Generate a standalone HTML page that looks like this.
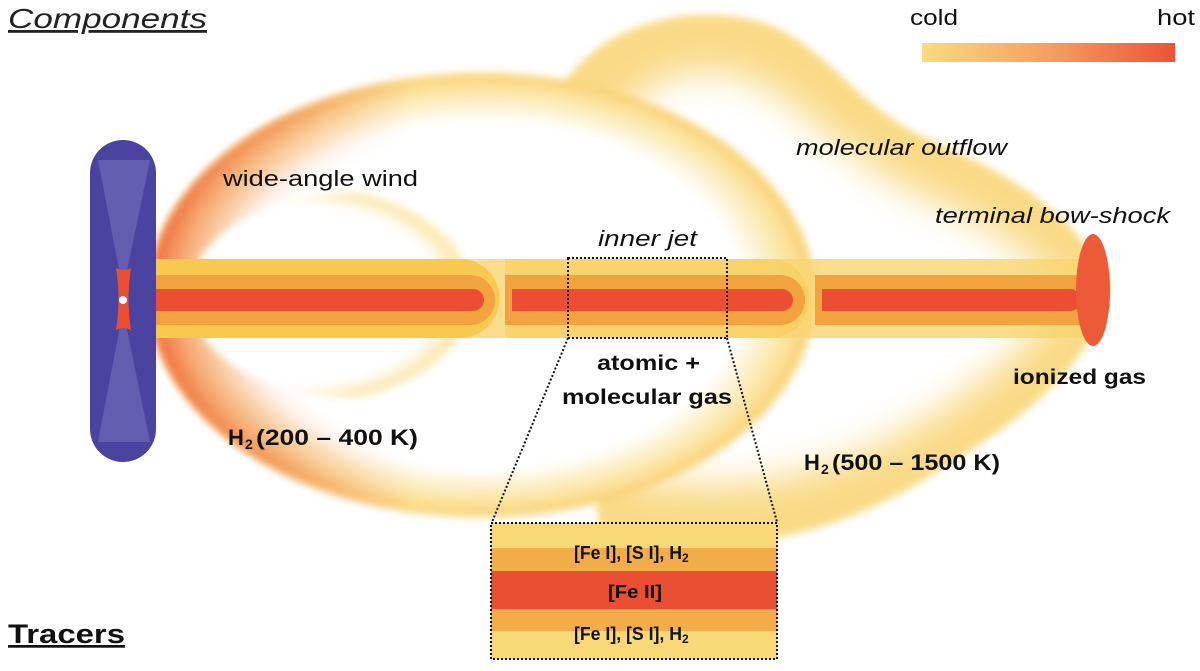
<!DOCTYPE html>
<html><head><style>
html,body{margin:0;padding:0;background:#fff;}
svg{display:block;}
text{font-family:"Liberation Sans",sans-serif;}
</style></head><body>
<svg width="1200" height="671" viewBox="0 0 1200 671" xmlns="http://www.w3.org/2000/svg">
<defs>
<filter id="b6" x="-30%" y="-30%" width="160%" height="160%"><feGaussianBlur stdDeviation="4"/></filter>
<filter id="b18" x="-30%" y="-30%" width="160%" height="160%"><feGaussianBlur stdDeviation="18"/></filter>
<linearGradient id="cb" x1="0" x2="1"><stop offset="0" stop-color="#fadb80"/><stop offset="0.5" stop-color="#f4a060"/><stop offset="1" stop-color="#ec5238"/></linearGradient>
<radialGradient id="rimW" cx="0.5" cy="0.5" r="0.5">
<stop offset="0" stop-color="#fff"/><stop offset="0.78" stop-color="#fff"/><stop offset="0.93" stop-color="#fbe4a0"/><stop offset="1" stop-color="#f8d070"/></radialGradient>
<radialGradient id="rimO" cx="0.5" cy="0.5" r="0.5">
<stop offset="0" stop-color="#fff" stop-opacity="0"/><stop offset="0.7" stop-color="#f7a870" stop-opacity="0"/><stop offset="0.9" stop-color="#f28a58" stop-opacity="0.7"/><stop offset="1" stop-color="#ee6a40"/></radialGradient>
<linearGradient id="mg" x1="0" x2="1"><stop offset="0" stop-color="#fff"/><stop offset="0.2" stop-color="#fff" stop-opacity="0.6"/><stop offset="0.4" stop-color="#fff" stop-opacity="0"/></linearGradient>
<mask id="leftm" maskUnits="userSpaceOnUse" x="0" y="0" width="1200" height="671"><rect x="145" y="60" width="670" height="480" fill="url(#mg)"/></mask>
<radialGradient id="rimC" cx="0.35" cy="0.5" r="0.55" fx="0.3">
<stop offset="0" stop-color="#fff"/><stop offset="0.8" stop-color="#fff"/><stop offset="0.95" stop-color="#fbe6a8"/><stop offset="1" stop-color="#fff" stop-opacity="0"/></radialGradient>
</defs>

<!-- molecular outflow envelope -->
<path d="M560,90 C600,20 700,0 770,25 C830,50 860,110 930,140 C1000,170 1080,210 1110,290 C1090,370 1020,420 940,470 C870,515 800,540 720,545 L600,540 Z" fill="#f9da86" filter="url(#b6)"/>
<path d="M620,120 C650,70 710,60 760,85 C810,110 850,165 920,195 C990,225 1040,260 1060,292 C1040,340 980,385 915,425 C855,460 790,480 720,485 L630,480 Z" fill="#fff" filter="url(#b18)"/>
<!-- wind envelope -->
<ellipse cx="482" cy="295" rx="333" ry="222" fill="url(#rimW)" filter="url(#b6)"/>
<ellipse cx="482" cy="295" rx="333" ry="222" fill="url(#rimO)" filter="url(#b6)" mask="url(#leftm)"/>
<!-- inner cavity -->
<ellipse cx="350" cy="295" rx="160" ry="102" fill="url(#rimC)" filter="url(#b6)"/>

<!-- jet outer band -->
<rect x="150" y="259" width="935" height="79" fill="#f9d470" opacity="0.8"/>
<path d="M150,259 H460 A39,39 0 0 1 460,338 H150 Z" fill="#f8c850"/>
<path d="M505,259 H770 A39,39 0 0 1 770,338 H505 Z" fill="#f8cf60" opacity="0.7"/>
<!-- orange bands -->
<path d="M150,275 H470 A25,25 0 0 1 470,325 H150 Z" fill="#f2a23e"/>
<path d="M505,275 H780 A25,25 0 0 1 780,325 H505 Z" fill="#f2a23e"/>
<rect x="815" y="275" width="270" height="50" fill="#f2a23e"/>
<!-- red core -->
<path d="M150,289 H473 A11,11 0 0 1 473,311 H150 Z" fill="#ea4f33"/>
<path d="M512,289 H782 A11,11 0 0 1 782,311 H512 Z" fill="#ea4f33"/>
<path d="M822,289 H1070 A11,11 0 0 1 1070,311 H822 Z" fill="#ea4f33"/>
<!-- bow shock -->
<ellipse cx="1093" cy="290" rx="17" ry="56" fill="#ec5a38"/>

<!-- disk -->
<rect x="90" y="140" width="66" height="322" rx="33" fill="#4a44a0"/>
<path d="M98,160 L123,290 L150,160 Z M98,442 L123,310 L150,442 Z" fill="#7d78c0" opacity="0.5"/>
<path d="M116,268 Q124,272 131,268 Q126,299 131,330 Q124,326 116,330 Q121,299 116,268 Z" fill="#ea4f33"/>
<circle cx="123" cy="300" r="4" fill="#fff"/>

<!-- zoom box -->
<rect x="568" y="258" width="159" height="80" fill="none" stroke="#111" stroke-width="2" stroke-dasharray="2,2"/>
<line x1="568" y1="338" x2="492" y2="522" stroke="#111" stroke-width="2" stroke-dasharray="2,2"/>
<line x1="727" y1="338" x2="777" y2="522" stroke="#111" stroke-width="2" stroke-dasharray="2,2"/>
<rect x="491" y="523" width="286" height="25" fill="#f9d878"/>
<rect x="491" y="548" width="286" height="23" fill="#f3ac4a"/>
<rect x="491" y="571" width="286" height="38" fill="#ea4f33"/>
<rect x="491" y="609" width="286" height="22" fill="#f3ac4a"/>
<rect x="491" y="631" width="286" height="28" fill="#f9d878"/>
<rect x="491" y="523" width="286" height="136" fill="none" stroke="#111" stroke-width="2" stroke-dasharray="2,2"/>
<g font-weight="bold" font-size="18" fill="#111">
<text x="574" y="559" textLength="108" lengthAdjust="spacingAndGlyphs">[Fe I], [S I], H</text><text x="682" y="562" font-size="12" font-weight="bold">2</text>
<text x="608" y="598" textLength="54" lengthAdjust="spacingAndGlyphs">[Fe II]</text>
<text x="574" y="640" textLength="108" lengthAdjust="spacingAndGlyphs">[Fe I], [S I], H</text><text x="682" y="643" font-size="12" font-weight="bold">2</text>
</g>

<!-- colorbar -->
<rect x="922" y="43" width="253" height="19" fill="url(#cb)"/>
<text x="910" y="25" font-size="22" fill="#111" textLength="48" lengthAdjust="spacingAndGlyphs">cold</text>
<text x="1157" y="25" font-size="22" fill="#111" textLength="38" lengthAdjust="spacingAndGlyphs">hot</text>

<!-- labels -->
<text x="8" y="28" font-size="28" font-style="italic" fill="#222" textLength="199" lengthAdjust="spacingAndGlyphs" text-decoration="underline">Components</text>
<text x="8" y="643" font-size="27" font-weight="bold" fill="#111" textLength="117" lengthAdjust="spacingAndGlyphs" text-decoration="underline">Tracers</text>
<text x="223" y="186" font-size="22" fill="#111" textLength="195" lengthAdjust="spacingAndGlyphs">wide-angle wind</text>
<text x="796" y="155" font-size="22" font-style="italic" fill="#111" textLength="211" lengthAdjust="spacingAndGlyphs">molecular outflow</text>
<text x="935" y="223" font-size="22" font-style="italic" fill="#111" textLength="235" lengthAdjust="spacingAndGlyphs">terminal bow-shock</text>
<text x="598" y="246" font-size="22" font-style="italic" fill="#111" textLength="99" lengthAdjust="spacingAndGlyphs">inner jet</text>
<text x="597" y="370" font-size="21" font-weight="bold" fill="#111" textLength="103" lengthAdjust="spacingAndGlyphs">atomic +</text>
<text x="562" y="404" font-size="21" font-weight="bold" fill="#111" textLength="170" lengthAdjust="spacingAndGlyphs">molecular gas</text>
<text x="1013" y="384" font-size="21" font-weight="bold" fill="#111" textLength="133" lengthAdjust="spacingAndGlyphs">ionized gas</text>
<text x="228" y="445" font-size="22" font-weight="bold" fill="#111">H</text><text x="245" y="449" font-size="14" font-weight="bold" fill="#111">2</text>
<text x="256" y="445" font-size="22" font-weight="bold" fill="#111" textLength="162" lengthAdjust="spacingAndGlyphs">(200 – 400 K)</text>
<text x="804" y="470" font-size="22" font-weight="bold" fill="#111">H</text><text x="821" y="474" font-size="14" font-weight="bold" fill="#111">2</text>
<text x="832" y="470" font-size="22" font-weight="bold" fill="#111" textLength="168" lengthAdjust="spacingAndGlyphs">(500 – 1500 K)</text>
</svg>
</body></html>
